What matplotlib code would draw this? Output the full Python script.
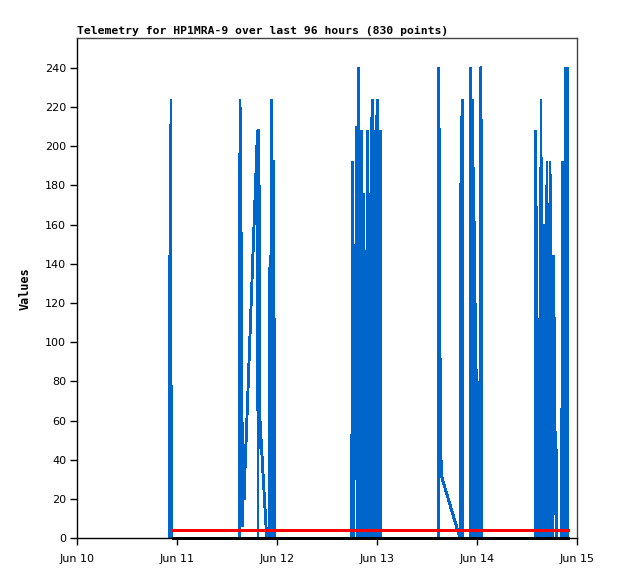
import matplotlib
matplotlib.use("Agg")
import matplotlib.pyplot as plt
import matplotlib.dates as mdates
from datetime import datetime
import numpy as np

# ---- data (time in days since Jun 10 00:00) ----
title = "Telemetry for HP1MRA-9 over last 96 hours (830 points)"
ylabel = "Values"

blue_t = [
    0.922, 0.925, 0.926, 0.937, 0.938,
    1.622, 1.627, 1.642, 1.652, 1.660, 1.668, 1.677, 1.687, 1.697, 1.707, 1.717,
    1.727, 1.737, 1.747, 1.757, 1.767, 1.777, 1.787, 1.797, 1.805, 1.807, 1.810,
    1.817, 1.820, 1.827, 1.837, 1.847, 1.857, 1.867, 1.877, 1.887, 1.894,
    1.922, 1.925, 1.930, 1.932, 1.944, 1.950, 1.961, 1.966, 1.970,
    2.745, 2.750, 2.757, 2.763, 2.769, 2.780, 2.785, 2.791, 2.799, 2.809, 2.819,
    2.839, 2.842, 2.849, 2.853, 2.862, 2.869, 2.875, 2.882, 2.887, 2.892, 2.903,
    2.905, 2.915, 2.922, 2.929, 2.937, 2.943, 2.951, 2.959, 2.965, 2.973, 2.979,
    2.986, 2.992, 3.001, 3.009, 3.015, 3.022, 3.028, 3.034,
    3.610, 3.615, 3.630, 3.640, 3.827, 3.835, 3.849, 3.855,
    3.930, 3.935, 3.939, 3.942, 3.950, 3.955, 3.963, 3.969, 3.973, 3.980, 3.985,
    3.990, 3.997, 4.002, 4.007, 4.011, 4.025, 4.030, 4.037, 4.043,
    4.577, 4.582, 4.589, 4.593, 4.602, 4.612, 4.617, 4.633, 4.637, 4.642, 4.652,
    4.657, 4.667, 4.673, 4.682, 4.687, 4.697, 4.703, 4.723, 4.727, 4.732, 4.739,
    4.743, 4.753, 4.757, 4.765, 4.770, 4.780, 4.790, 4.795, 4.845, 4.849, 4.852,
    4.857, 4.865, 4.870, 4.882, 4.887, 4.900, 4.907,
]
blue_v = [
    0, 144, 0, 224, 0,
    0, 224, 128, 6, 34, 20, 35, 48, 62, 76, 90,
    104, 118, 132, 145, 160, 173, 187, 201, 208, 0, 208,
    208, 80, 60, 51, 41, 32, 23, 14, 5, 0,
    0, 136, 144, 0, 224, 0, 192, 192, 0,
    0, 192, 90, 0, 90, 150, 30, 210, 0, 240, 0,
    0, 208, 0, 88, 176, 0, 147, 88, 32, 0, 0,
    208, 0, 176, 80, 0, 208, 224, 0, 208, 0, 208,
    0, 208, 224, 0, 208, 0, 208, 0,
    0, 240, 64, 32, 0, 176, 224, 0,
    0, 240, 192, 0, 224, 0, 189, 154, 0, 120, 0,
    86, 52, 80, 17, 0, 0, 240, 240, 0,
    0, 208, 160, 0, 112, 88, 0, 0, 224, 0, 144,
    0, 160, 0, 160, 0, 192, 0, 0, 192, 144, 0,
    136, 104, 0, 144, 85, 45, 45, 0, 0, 192, 144,
    0, 144, 0, 240, 0, 240, 0,
]
red_t = [0.944, 4.917]
red_v = [4, 4]
black_t = [0.944, 4.917]
black_v = [0, 0]

yticks = list(range(0, 241, 20))

# ---- figure ----
W, H = 618, 579
fig = plt.figure(figsize=(W / 100, H / 100), dpi=100)
ax = fig.add_axes([77.3 / W, 1 - 538.3 / H, 500 / W, 500 / H])

base = mdates.date2num(datetime(2024, 6, 10))
bx = base + np.array(blue_t)
rx = base + np.array(red_t)
kx = base + np.array(black_t)

ax.plot(bx, blue_v, color="#0066cc", lw=1.35, antialiased=False,
        solid_joinstyle="bevel", zorder=2)
ax.plot(rx, red_v, color="#ff0000", lw=1.8, solid_capstyle="butt",
        antialiased=False, zorder=3)
ax.plot(kx, black_v, color="black", lw=1.8, solid_capstyle="butt",
        antialiased=False, zorder=4, clip_on=False)

ax.set_xlim(base, base + 5)
ax.set_ylim(0, 255)
ax.xaxis.set_major_locator(mdates.DayLocator())
ax.xaxis.set_major_formatter(mdates.DateFormatter("%b %d"))
ax.set_yticks(yticks)

ax.tick_params(direction="out", length=5, width=1, labelsize=8, colors="black")
ax.tick_params(axis="x", pad=6)
ax.tick_params(axis="y", pad=3)
for side in ("left", "bottom"):
    ax.spines[side].set_color("black")
    ax.spines[side].set_linewidth(1.0)
for side in ("right", "top"):
    ax.spines[side].set_color("#444444")
    ax.spines[side].set_linewidth(1.0)

ax.set_ylabel(ylabel, fontsize=8.5, fontweight="bold", family="DejaVu Sans Mono")
ax.yaxis.set_label_coords((32 - 77.3) / 500, 0.5)

fig.text(77 / W, 1 - 31 / H, title, ha="left", va="center", fontsize=8.2,
         fontweight="bold", family="DejaVu Sans Mono")

fig.savefig("out.png", dpi=100, facecolor="white")
